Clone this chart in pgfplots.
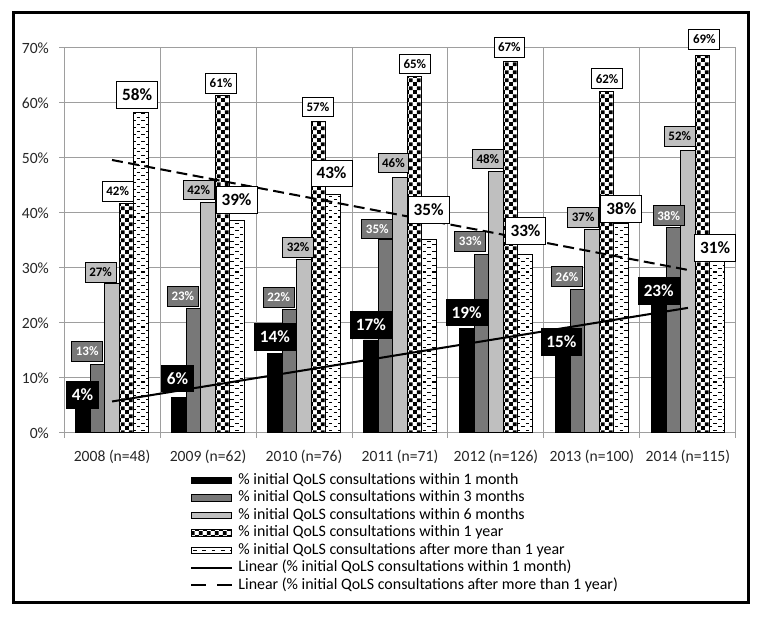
\documentclass[border=0pt]{standalone}
\usepackage{pgfplots}
\pgfplotsset{compat=1.18}
\usepackage{pgfplotstable}
\usetikzlibrary{patterns}
\usepackage{fontspec}
\setmainfont{Carlito}

\definecolor{dgray}{gray}{0.47}
\definecolor{lgray}{gray}{0.75}
\definecolor{gridc}{gray}{0.62}

% small checkerboard, like the Excel fill
\pgfdeclarepatternformonly{smallcheck}{\pgfpointorigin}{\pgfqpoint{5pt}{5pt}}{\pgfqpoint{5pt}{5pt}}{%
  \pgfpathrectangle{\pgfpointorigin}{\pgfqpoint{2.5pt}{2.5pt}}%
  \pgfpathrectangle{\pgfqpoint{2.5pt}{2.5pt}}{\pgfqpoint{2.5pt}{2.5pt}}%
  \pgfusepath{fill}%
}
% short horizontal dashes, staggered
\pgfdeclarepatternformonly{hdash}{\pgfqpoint{-0.5pt}{-0.5pt}}{\pgfqpoint{6.5pt}{5pt}}{\pgfqpoint{6pt}{4.4pt}}{%
  \pgfsetlinewidth{0.7pt}%
  \pgfpathmoveto{\pgfqpoint{0.5pt}{0.8pt}}\pgfpathlineto{\pgfqpoint{2.8pt}{0.8pt}}%
  \pgfpathmoveto{\pgfqpoint{3.5pt}{3pt}}\pgfpathlineto{\pgfqpoint{5.8pt}{3pt}}%
  \pgfusepath{stroke}%
}

\pgfplotsset{
  barleg/.style={legend image code/.code={\draw[##1,line width=0.6pt] (0pt,-2.2pt) rectangle (26pt,2.2pt);}},
  lineleg/.style={legend image code/.code={\draw[##1] (0pt,0pt) -- (26pt,0pt);}},
  dashleg/.style={legend image code/.code={\draw[##1, dash pattern=on 9.5pt off 7pt] (0pt,0pt) -- (26pt,0pt);}},
  bars/.style={ybar, bar width=0.152, draw=black, line width=0.6pt, barleg},
  labs/.style={draw=none, mark=none, forget plot, point meta=explicit symbolic,
    nodes near coords={\pgfplotspointmeta\%}},
  big/.style={nodes near coords style={anchor=center, draw=black, line width=0.6pt,
    font=\bfseries\fontsize{11}{12}\selectfont, inner xsep=3.5pt, inner ysep=0pt,
    text height=7.6pt, text depth=0.4pt, minimum height=17pt}},
  small/.style={nodes near coords style={anchor=center, draw=black, line width=0.6pt,
    font=\bfseries\fontsize{8.3}{9}\selectfont, inner xsep=2.6pt, inner ysep=0pt,
    text height=5.8pt, text depth=0.3pt, minimum height=12.6pt}},
}

% values (%) per year 2008..2014
\pgfplotstableread{
x y
0 4.2
1 6.5
2 14.5
3 16.9
4 19.0
5 15.0
6 23.5
}\mone
\pgfplotstableread{
x y
0 12.5
1 22.6
2 22.4
3 35.2
4 32.5
5 26.0
6 37.4
}\mthree
\pgfplotstableread{
x y
0 27.1
1 41.9
2 31.6
3 46.5
4 47.6
5 37.0
6 51.3
}\msix
\pgfplotstableread{
x y
0 41.7
1 61.3
2 56.6
3 64.8
4 67.5
5 62.0
6 68.7
}\yone
\pgfplotstableread{
x y
0 58.3
1 38.7
2 43.4
3 35.2
4 32.5
5 38.0
6 31.3
}\ymore

% label positions (centre of each box)
\pgfplotstableread{
x y lab
-0.307 6.9 4
0.682 9.9 6
1.696 17.4 14
2.697 19.6 17
3.695 21.9 19
4.682 16.5 15
5.696 25.8 23
}\lone
\pgfplotstableread{
x y lab
-0.259 14.8 13
0.738 24.8 23
1.736 24.6 22
2.763 37.1 35
3.732 34.8 33
4.740 28.4 26
5.800 39.5 38
}\lthree
\pgfplotstableread{
x y lab
-0.119 29.2 27
0.903 44.2 42
1.939 33.7 32
2.932 49.1 46
3.916 49.8 48
4.909 39.2 37
5.915 53.9 52
}\lsix
\pgfplotstableread{
x y lab
0.059 43.9 42
1.135 63.6 61
2.145 59.3 57
3.155 67.1 65
4.140 70.1 67
5.158 64.4 62
6.171 71.6 69
}\lyone
\pgfplotstableread{
x y lab
0.262 61.5 58
1.297 42.4 39
2.287 47.2 43
3.298 40.5 35
4.308 36.7 33
5.306 40.7 38
6.284 33.6 31
}\lmore

\begin{document}
\begin{tikzpicture}
\begin{axis}[
  scale only axis, width=430pt, height=246.4pt,
  xmin=-0.5, xmax=6.5, ymin=0, ymax=70,
  clip=false,
  xtick={0,...,6},
  xticklabels={2008 (n=48),2009 (n=62),2010 (n=76),2011 (n=71),2012 (n=126),2013 (n=100),2014 (n=115)},
  minor xtick={-0.5,0.5,...,6.5},
  ytick={0,10,...,70},
  yticklabels={0\%,10\%,20\%,30\%,40\%,50\%,60\%,70\%},
  ymajorgrids, xminorgrids,
  major grid style={gridc, line width=0.6pt},
  minor grid style={gridc, line width=0.6pt},
  axis line style={gridc, line width=0.6pt},
  tick align=outside, xtick pos=bottom, ytick pos=left,
  major tick length=3.2pt, minor tick length=3.2pt,
  tick style={gridc, line width=0.6pt},
  major x tick style={draw=none},
  tick label style={font=\fontsize{10}{12}\selectfont, text=black!85},
  xticklabel style={yshift=-4pt},
  yticklabel style={xshift=-3pt},
  legend style={at={(0,0)}, anchor=north west, xshift=80.6pt, yshift=-24.6pt,
    draw=none, fill=none, inner sep=0pt, row sep=0pt,
    font=\fontsize{10.2}{11}\selectfont,
    nodes={inner sep=1pt, text height=7pt, text depth=2.2pt},
    /tikz/every odd column/.append style={column sep=2.5pt}},
  legend cell align=left,
]
\addplot[bars, bar shift=-0.304, fill=black] table {\mone};
\addplot[bars, bar shift=-0.152, fill=dgray] table {\mthree};
\addplot[bars, bar shift=0, fill=lgray] table {\msix};
\addplot[bars, bar shift=0.152, fill=white, postaction={pattern=smallcheck}] table {\yone};
\addplot[bars, bar shift=0.304, fill=white, postaction={pattern=hdash}] table {\ymore};

\addplot[black, line width=1.3pt, mark=none, lineleg]
  coordinates {(0,5.72) (6,22.74)};
\addplot[black, line width=1.3pt, mark=none, dash pattern=on 7pt off 3.5pt, dashleg]
  coordinates {(0,49.63) (6,29.64)};

\addplot[labs, big, nodes near coords style={fill=black, text=white}] table[meta=lab] {\lone};
\addplot[labs, small, nodes near coords style={fill=dgray, text=white}] table[meta=lab] {\lthree};
\addplot[labs, small, nodes near coords style={fill=lgray, text=black}] table[meta=lab] {\lsix};
\addplot[labs, small, nodes near coords style={fill=white, text=black}] table[meta=lab] {\lyone};
\addplot[labs, big, nodes near coords style={fill=white, text=black}] table[meta=lab] {\lmore};

\legend{\% initial QoLS consultations within 1 month,
  \% initial QoLS consultations within 3 months,
  \% initial QoLS consultations within 6 months,
  \% initial QoLS consultations within 1 year,
  \% initial QoLS consultations after more than 1 year,
  Linear (\% initial QoLS consultations within 1 month),
  Linear (\% initial QoLS consultations after more than 1 year)}
\end{axis}
\draw[line width=1.9pt] (-32.6pt,-108.8pt) rectangle (437.8pt,268.8pt);
\path (-41pt,-117.8pt) rectangle (446.7pt,277.1pt);
\end{tikzpicture}
\end{document}
